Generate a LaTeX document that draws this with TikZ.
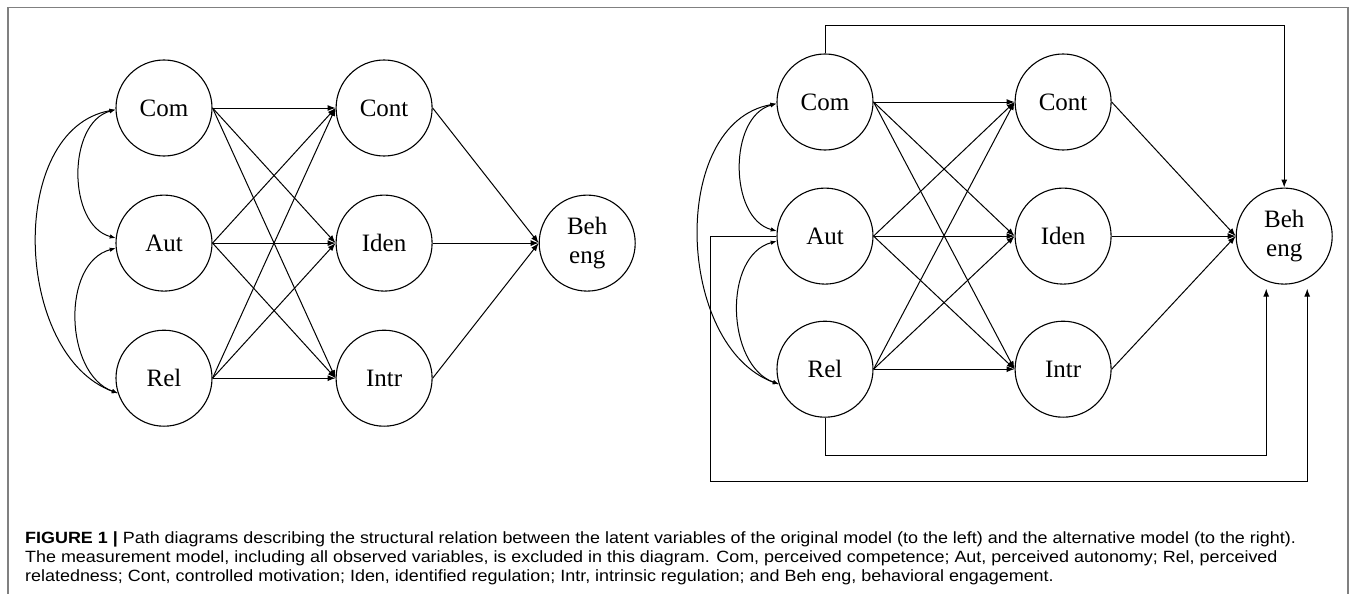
\documentclass[tikz,border=0pt]{standalone}
\usepackage{fontspec}
\setmainfont{Liberation Serif}
\newfontfamily\capfont[FakeStretch=1.1]{Liberation Sans}
\usetikzlibrary{positioning, arrows.meta}

\begin{document}
\begin{tikzpicture}[x=1pt, y=-1pt,
    latent/.style={circle, draw, line width=1.1pt, minimum size=96pt, inner sep=0pt, align=center,
        font=\fontsize{25}{29}\selectfont},
    effect/.style={line width=1pt, -{Latex[length=8pt, width=6pt]}},
    cov/.style={line width=1pt, {Latex[length=6pt, width=4.5pt]}-{Latex[length=6pt, width=4.5pt]}}]
    \useasboundingbox (0,0) rectangle (1355,594);

    % Frame
    \draw[gray, line width=1.5pt] (8,594) -- (8,7.5) -- (1348,7.5) -- (1348,594);

    % Original model
    \node[latent] (Com) at (164,108) {Com};
    \node[latent, below=38pt of Com] (Aut) {Aut};
    \node[latent, below=38pt of Aut] (Rel) {Rel};
    \node[latent, right=123pt of Com] (Cont) {Cont};
    \node[latent, below=38pt of Cont] (Iden) {Iden};
    \node[latent, below=38pt of Iden] (Intr) {Intr};
    \node[latent, right=106pt of Iden] (Beh) {Beh\\eng};

    % Correlations
    \draw[cov] (Com.182) to[out=195, in=165] (Aut.174);
    \draw[cov] (Aut.186) to[out=195, in=160] (Rel.198);
    \draw[cov] (Com.182) to[out=190, in=160] (Rel.198);

    % Paths
    \draw[effect] (Com.east) -- (Cont.west);
    \draw[effect] (Com.east) -- (Iden.west);
    \draw[effect] (Com.east) -- (Intr.west);
    \draw[effect] (Aut.east) -- (Cont.west);
    \draw[effect] (Aut.east) -- (Iden.west);
    \draw[effect] (Aut.east) -- (Intr.west);
    \draw[effect] (Rel.east) -- (Cont.west);
    \draw[effect] (Rel.east) -- (Iden.west);
    \draw[effect] (Rel.east) -- (Intr.west);
    \draw[effect] (Cont.east) -- (Beh.west);
    \draw[effect] (Iden.east) -- (Beh.west);
    \draw[effect] (Intr.east) -- (Beh.west);

    % Alternative model
    \node[latent] (Com2) at (825,102) {Com};
    \node[latent, below=37pt of Com2] (Aut2) {Aut};
    \node[latent, below=36pt of Aut2] (Rel2) {Rel};
    \node[latent, right=141pt of Com2] (Cont2) {Cont};
    \node[latent, below=37pt of Cont2] (Iden2) {Iden};
    \node[latent, below=36pt of Iden2] (Intr2) {Intr};
    \node[latent, right=124pt of Iden2] (Beh2) {Beh\\eng};

    % Correlations
    \draw[cov] (Com2.182) to[out=195, in=165] (Aut2.174);
    \draw[cov] (Aut2.186) to[out=195, in=160] (Rel2.198);
    \draw[cov] (Com2.182) to[out=190, in=160] (Rel2.198);

    % Paths
    \draw[effect] (Com2.east) -- (Cont2.west);
    \draw[effect] (Com2.east) -- (Iden2.west);
    \draw[effect] (Com2.east) -- (Intr2.west);
    \draw[effect] (Aut2.east) -- (Cont2.west);
    \draw[effect] (Aut2.east) -- (Iden2.west);
    \draw[effect] (Aut2.east) -- (Intr2.west);
    \draw[effect] (Rel2.east) -- (Cont2.west);
    \draw[effect] (Rel2.east) -- (Iden2.west);
    \draw[effect] (Rel2.east) -- (Intr2.west);
    \draw[effect] (Cont2.east) -- (Beh2.west);
    \draw[effect] (Iden2.east) -- (Beh2.west);
    \draw[effect] (Intr2.east) -- (Beh2.west);

    % Direct paths to engagement
    \draw[effect] (Com2.north) -- ++(0,-28) -| (Beh2.north);
    \draw[effect] (Rel2.south) -- ++(0,38) -| ([xshift=-18pt, yshift=-4pt]Beh2.south);
    \draw[effect] (Aut2.west) -- ++(-66,0) -- ++(0,245) -| ([xshift=23pt, yshift=-4pt]Beh2.south);

    % Caption
    \node[anchor=base west, align=left, inner sep=0pt, font=\capfont\fontsize{16.3}{19}\selectfont] (caption) at (25,581)
        {\textbf{FIGURE 1 |} Path diagrams describing the structural relation between the latent variables of the original model (to the left) and the alternative model (to the right).\\
        The measurement model, including all observed variables, is excluded in this diagram. Com, perceived competence; Aut, perceived autonomy; Rel, perceived\\
        relatedness; Cont, controlled motivation; Iden, identified regulation; Intr, intrinsic regulation; and Beh eng, behavioral engagement.};
\end{tikzpicture}
\end{document}
